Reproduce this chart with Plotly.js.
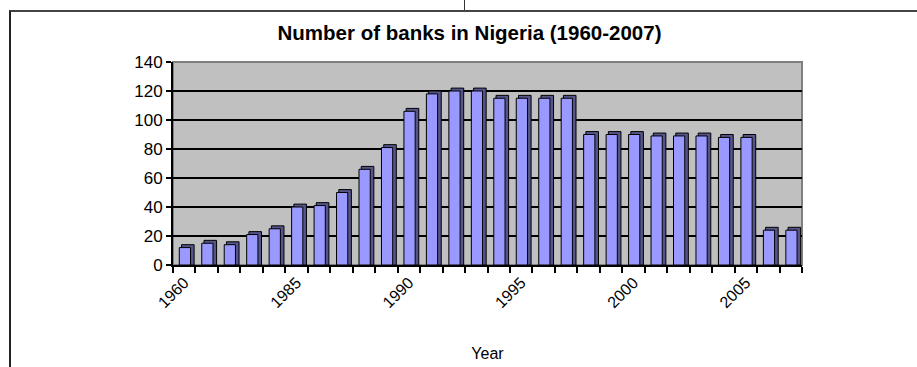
<!DOCTYPE html>
<html>
<head>
<meta charset="utf-8">
<script src="https://cdn.plot.ly/plotly-3.0.1.min.js"></script>
<style>
  html, body { margin: 0; padding: 0; background: #fff; }
  #frame { position: absolute; left: 9px; top: 10px; width: 920px; height: 370px;
           border-top: 2px solid #444; border-left: 2px solid #222; }
  #tick { position: absolute; left: 464px; top: 0; width: 1px; height: 10px; background: #333; }
  #chart { position: absolute; left: 0; top: 0; width: 917px; height: 367px; }
</style>
</head>
<body>
<div id="frame"></div>
<div id="tick"></div>
<div id="chart"></div>
<script>
// Categories (years) and number of banks
const years = ['1960','1965','1970','1975','1980','1985','1986','1987','1988','1989',
               '1990','1991','1992','1993','1994','1995','1996','1997','1998','1999',
               '2000','2001','2002','2003','2004','2005','2006','2007'];
const banks = [12, 15, 14, 21, 25, 40, 41, 50, 66, 81,
               106, 118, 120, 120, 115, 115, 115, 115, 90, 90,
               90, 89, 89, 89, 88, 88, 24, 24];
const labelledYears = ['1960','1985','1990','1995','2000','2005'];

const tickText = years.map(y => labelledYears.includes(y) ? y : '');
const FONT = 'Liberation Sans, Arial, sans-serif';

const depthTrace = {
  type: 'bar', x: years, y: banks.map(v => v + 2),
  width: 0.56, offset: -0.12,
  marker: { color: '#55558a', line: { color: '#000', width: 1 } },
  hoverinfo: 'skip', showlegend: false
};
const frontTrace = {
  type: 'bar', x: years, y: banks,
  width: 0.5, offset: -0.22,
  marker: { color: '#9999ff', line: { color: '#000', width: 1 } },
  showlegend: false
};

const layout = {
  width: 917, height: 367,
  margin: { l: 173, r: 115, t: 62, b: 102, pad: 0 },
  paper_bgcolor: 'rgba(0,0,0,0)',
  plot_bgcolor: '#c0c0c0',
  barmode: 'overlay',
  font: { family: FONT, color: '#000', size: 15 },
  title: {
    text: '<b>Number of banks in Nigeria (1960-2007)</b>',
    font: { family: FONT, size: 20.5, color: '#000' },
    x: 0.512, xref: 'container', xanchor: 'center',
    y: 0.91, yref: 'container', yanchor: 'middle'
  },
  xaxis: {
    type: 'category',
    tickmode: 'array', tickvals: years, ticktext: tickText,
    tickangle: -45, tickson: 'boundaries',
    ticks: 'outside', ticklen: 6, tickcolor: '#000', tickwidth: 2,
    showline: true, linecolor: '#000', linewidth: 2,
    showgrid: false, zeroline: false,
    tickfont: { family: FONT, size: 16, color: '#000' },
    title: { text: 'Year', font: { family: FONT, size: 16, color: '#000' }, standoff: 38 },
    automargin: false
  },
  yaxis: {
    range: [0, 140], tickvals: [0, 20, 40, 60, 80, 100, 120, 140],
    ticks: 'outside', ticklen: 5, tickcolor: '#000', tickwidth: 2,
    showline: true, linecolor: '#000', linewidth: 2,
    showgrid: true, gridcolor: '#000', gridwidth: 1.5,
    zeroline: false,
    tickfont: { family: FONT, size: 17, color: '#000' },
    automargin: false
  },
  shapes: [{
    type: 'rect', xref: 'paper', yref: 'paper', x0: 0, x1: 1, y0: 0, y1: 1,
    line: { color: '#808080', width: 2 }, layer: 'below'
  }]
};

Plotly.newPlot('chart', [depthTrace, frontTrace], layout, { displayModeBar: false, staticPlot: true });
</script>
</body>
</html>
